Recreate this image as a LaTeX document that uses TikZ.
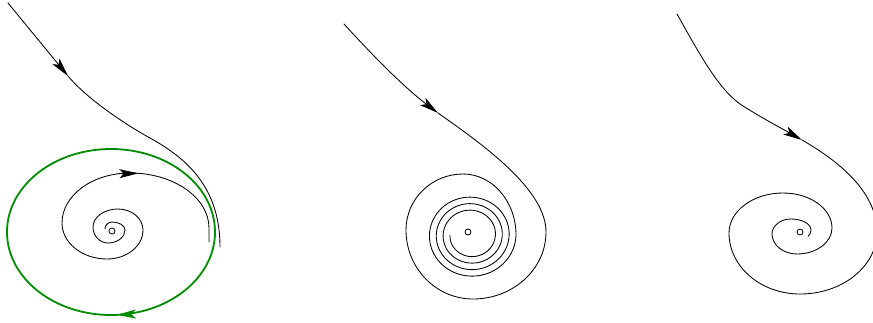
\documentclass[tikz,border=0pt]{standalone}
\usetikzlibrary{arrows.meta,decorations.markings}
\definecolor{cyclegreen}{RGB}{0,140,0}
\begin{document}
\begin{tikzpicture}[x=1pt,y=-1pt,
  traj/.style={line width=0.85pt, line join=round, line cap=round},
  headtip/.style={-{Stealth[length=19pt,width=9pt,inset=4.5pt]}},
  cycle/.style={line width=1.8pt, draw=cyclegreen},
  eqpt/.style={line width=0.8pt}]
\useasboundingbox (0,0) rectangle (873,322);
\clip (0,0) rectangle (873,322);

% ---------- panel 1 ----------
\draw[cycle, postaction={decorate}, decoration={markings,
  mark=at position 0.24 with {\arrow{Stealth[length=19pt,width=9pt,inset=4.5pt]}}}]
  (111,232) ellipse [x radius=104, y radius=83];
\coordinate (a1s) at (8,3);
\coordinate (a1t) at (68,76);
\coordinate (a1m) at (150,138);
\coordinate (a1e) at (220,247);
\draw[traj, headtip] (a1s) -- (a1t);
\draw[traj] (a1t) .. controls (88,100) and (128,126) .. (a1m)
  .. controls (190,160) and (220,190) .. (a1e);
\coordinate (s1) at (105,229);
\draw[traj] (s1)
  arc[start angle=180, end angle=270, x radius=7,  y radius=7]
  arc[start angle=270, end angle=360, x radius=13, y radius=8]
  arc[start angle=0,   end angle=90,  x radius=17, y radius=13]
  arc[start angle=90,  end angle=180, x radius=15, y radius=16]
  arc[start angle=180, end angle=270, x radius=25, y radius=18]
  arc[start angle=270, end angle=360, x radius=25, y radius=21]
  arc[start angle=0,   end angle=90,  x radius=36, y radius=29]
  arc[start angle=90,  end angle=180, x radius=45, y radius=36]
  arc[start angle=180, end angle=270, x radius=68, y radius=50]
  arc[start angle=270, end angle=360, x radius=79, y radius=55]
  -- ++(0,14);
\coordinate (h1b) at (119,173.7);
\coordinate (h1t) at (138.3,173.3);
\draw[traj, headtip] (h1b) -- (h1t);
\node[eqpt, draw, circle, inner sep=0pt, minimum size=6pt] (c1) at (112,231) {};

% ---------- panel 2 ----------
\coordinate (a2s) at (344,24);
\coordinate (a2t) at (438,113);
\coordinate (r2) at (546,232);
\draw[traj, headtip] (a2s) .. controls (375,58) and (405,88) .. (a2t);
\draw[traj] (a2t) .. controls (485,146) and (546,190) .. (r2)
  arc[start angle=0,   end angle=90,  x radius=73, y radius=67]
  arc[start angle=90,  end angle=180, x radius=67, y radius=69]
  arc[start angle=180, end angle=270, x radius=57, y radius=56]
  arc[start angle=270, end angle=360, x radius=53, y radius=61]
  -- plot[domain=0:1260, samples=260, smooth, variable=\t]
  ({471+(45-\t/52.5)*cos(\t)}, {235+0.95*(45-\t/52.5)*sin(\t)});
\node[eqpt, draw, circle, inner sep=0pt, minimum size=6pt] (c2) at (468,232) {};

% ---------- panel 3 ----------
\coordinate (a3s) at (677,14);
\coordinate (a3m) at (740,104);
\coordinate (a3t) at (802,140);
\coordinate (r3) at (877,232);
\draw[traj, headtip] (a3s) .. controls (700,55) and (718,88) .. (a3m)
  .. controls (760,117) and (781,128) .. (a3t);
\draw[traj] (a3t) .. controls (835,159) and (877,190) .. (r3)
  arc[start angle=0,   end angle=90,  x radius=77, y radius=62]
  arc[start angle=90,  end angle=180, x radius=71, y radius=61]
  arc[start angle=180, end angle=270, x radius=54, y radius=40]
  arc[start angle=270, end angle=360, x radius=49, y radius=35]
  arc[start angle=0,   end angle=90,  x radius=35, y radius=26]
  arc[start angle=90,  end angle=180, x radius=25, y radius=20]
  arc[start angle=180, end angle=270, x radius=19, y radius=15]
  arc[start angle=270, end angle=360, x radius=20, y radius=11]
  arc[start angle=0,   end angle=45,  x radius=10, y radius=9];
\node[eqpt, draw, circle, inner sep=0pt, minimum size=6pt] (c3) at (800,232) {};
\end{tikzpicture}
\end{document}
